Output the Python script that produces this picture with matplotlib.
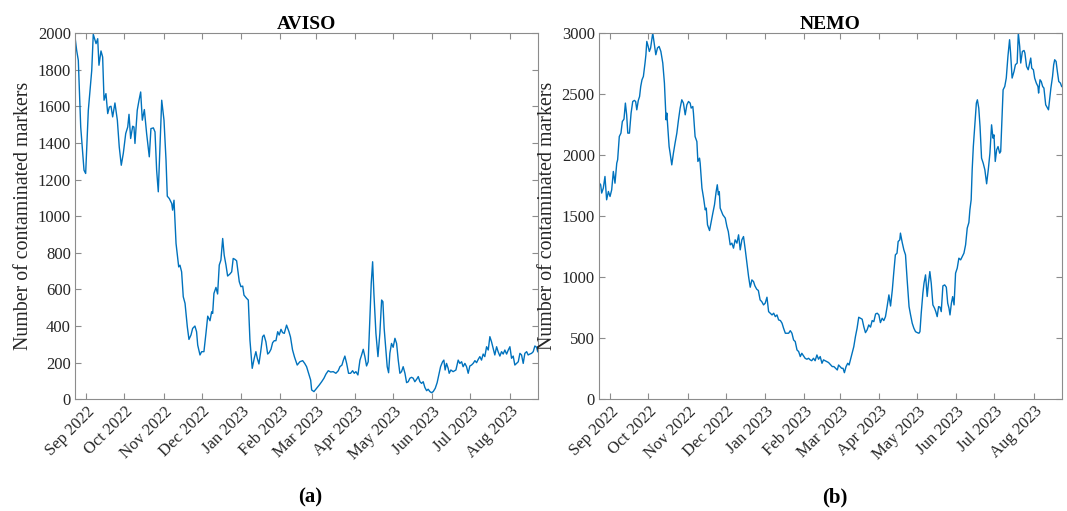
import numpy as np
import matplotlib
matplotlib.use("Agg")
import matplotlib.pyplot as plt
import matplotlib.dates as mdates

plt.rcParams['font.family'] = ['Liberation Serif', 'DejaVu Serif']

start_date = np.datetime64('2022-08-23')
end_date = np.datetime64('2023-08-23')

# AVISO: (days since 2022-08-23, number of contaminated markers)
aviso_days = [0, 1.3, 2.6, 4.5, 7.1, 8.4, 10.5, 13.2, 14.4, 16.6, 17.9, 18.9, 20.5, 21.8, 22.9,
              24.4, 25.8, 27.1, 28.4, 29.7, 31.5, 33.4, 34.9, 36.5, 38.1, 40.0, 41.6, 42.6, 43.9,
              45.5, 46.5, 47.3, 49.1, 50.5, 51.8, 53.1, 54.7, 56.5, 58.6, 59.9, 61.8, 63.1, 64.4,
              65.7, 67.0, 68.4, 70.2, 71.8, 72.8, 74.4, 76.3, 77.0, 78.1, 79.7, 81.8, 82.8, 84.1,
              85.4, 86.8, 88.6, 89.9, 91.5, 92.8, 94.6, 95.9, 96.8, 98.6, 99.9, 101.7, 103.3,
              104.7, 106.5, 107.8, 108.6, 109.6, 111.2, 112.5, 113.8, 115.1, 116.5, 117.7, 119.1,
              120.4, 122.2, 123.6, 124.8, 126.2, 127.5, 129.6, 130.9, 132.3, 133.3, 135.4, 136.7,
              138.0, 139.8, 141.4, 142.7, 143.8, 145.1, 146.5, 148.0, 149.1, 150.6, 152.0, 153.2,
              154.6, 155.9, 157.2, 158.5, 159.9, 161.1, 162.5, 163.8, 165.1, 166.9, 168.8, 170.0,
              171.6, 173.2, 175.3, 177.4, 179.6, 181.2, 182.7, 184.3, 185.9, 186.7, 188.5, 190.6,
              192.7, 194.6, 196.4, 198.0, 199.8, 201.7, 203.7, 205.8, 207.7, 209.0, 210.6, 211.6,
              212.9, 214.3, 215.8, 217.4, 219.0, 220.3, 221.6, 223.2, 224.8, 226.1, 227.4, 228.7,
              230.0, 231.3, 232.6, 233.7, 234.8, 235.8, 237.4, 239.0, 240.5, 241.9, 242.9, 243.9,
              245.3, 246.3, 247.4, 248.4, 249.7, 251.0, 252.4, 253.7, 255.0, 256.3, 257.6, 258.9,
              260.3, 261.6, 262.9, 264.2, 265.5, 266.8, 268.1, 269.5, 270.8, 272.1, 273.4, 274.7,
              276.0, 277.4, 278.6, 280.0, 281.3, 282.6, 284.2, 285.7, 287.3, 288.4, 290.0, 291.0,
              292.0, 293.1, 294.4, 295.2, 296.5, 298.3, 300.5, 302.3, 303.6, 305.0, 306.2, 307.6,
              308.9, 310.2, 311.5, 312.8, 314.1, 315.5, 316.8, 318.1, 319.4, 320.7, 322.0, 323.3,
              324.7, 326.0, 327.3, 328.6, 329.9, 331.2, 332.6, 333.8, 335.2, 336.5, 337.8, 339.1,
              340.5, 341.8, 343.1, 344.4, 345.7, 347.0, 348.4, 349.7, 351.0, 352.3, 353.6, 354.9,
              356.3, 357.5, 358.8, 360.2, 361.5, 362.8, 364.2, 365.0]
aviso_vals = [1978, 1905, 1851, 1487, 1251, 1233, 1578, 1796, 1993, 1942, 1969, 1824, 1902, 1869, 1633,
              1669, 1560, 1596, 1600, 1542, 1618, 1524, 1378, 1278, 1343, 1451, 1487, 1556, 1424,
              1491, 1487, 1397, 1578, 1633, 1678, 1524, 1582, 1451, 1324, 1478, 1482, 1460, 1251,
              1133, 1378, 1633, 1524, 1306, 1109, 1096, 1069, 1033, 1087, 851, 723, 732, 696,
              560, 524, 396, 327, 351, 387, 400, 369, 296, 242, 260, 260, 360,
              454, 429, 478, 469, 578, 611, 575, 733, 760, 878, 787, 733,
              673, 684, 696, 769, 764, 756, 642, 615, 618, 569, 551, 542,
              324, 169, 224, 260, 224, 193, 260, 342, 351, 314, 247, 255,
              273, 309, 320, 320, 369, 351, 382, 364, 360, 405, 369, 340,
              270, 230, 187, 205, 211, 196, 178, 142, 105, 51, 42, 60,
              78, 96, 115, 138, 156, 149, 151, 142, 156, 178, 187, 211,
              236, 196, 142, 142, 156, 142, 151, 133, 214, 242, 273, 233,
              182, 205, 433, 633, 751, 578, 360, 233, 360, 542, 533, 387,
              269, 178, 145, 251, 305, 284, 333, 305, 214, 142, 151, 178,
              142, 91, 96, 115, 120, 115, 96, 109, 124, 96, 87, 96,
              65, 47, 55, 42, 36, 42, 60, 91, 142, 178, 205, 214,
              160, 196, 169, 142, 160, 151, 160, 214, 196, 205, 178, 196,
              178, 142, 182, 187, 196, 211, 200, 218, 233, 214, 247, 233,
              287, 269, 342, 314, 278, 242, 287, 260, 236, 260, 247, 269,
              247, 269, 287, 224, 236, 187, 196, 205, 251, 242, 196, 251,
              260, 242, 247, 251, 260, 291, 284, 260]

# NEMO: (days since 2022-08-23, number of contaminated markers)
nemo_days = [0, 1.3, 2.1, 3.4, 4.7, 6.0, 7.4, 8.7, 10.0, 11.3,
             12.6, 14.0, 14.7, 16.0, 17.3, 18.4, 19.7, 20.8, 21.8, 22.7,
             24.0, 25.3, 26.6, 27.9, 28.9, 29.8, 31.0, 32.0, 32.9, 33.9,
             35.0, 36.3, 37.0, 37.7, 38.8, 39.7, 40.7, 41.8, 42.4, 43.5,
             44.8, 46.1, 47.4, 48.8, 50.3, 51.6, 52.9, 53.5, 54.4, 55.3,
             56.1, 57.4, 58.7, 60.0, 61.4, 62.7, 64.0, 65.3, 66.6, 68.0,
             69.3, 70.6, 71.9, 72.7, 74.0, 74.5, 75.8, 77.2, 78.0, 79.3,
             79.8, 81.2, 82.5, 83.8, 84.6, 85.6, 87.2, 88.5, 89.8, 91.1,
             92.4, 93.3, 94.2, 94.9, 95.6, 97.7, 99.6, 100.9, 102.0, 103.5,
             104.8, 106.1, 107.4, 108.8, 110.1, 111.4, 112.7, 114.0, 115.4, 116.7,
             118.0, 119.3, 120.6, 121.9, 123.0, 124.4, 125.7, 127.1, 128.4, 129.8,
             131.1, 132.5,
             133.8, 135.1, 136.5, 137.8, 139.1, 140.4, 141.7, 143.1, 144.4, 145.6, 147.0, 148.3,
             149.6, 150.9, 152.2, 153.5, 154.8, 156.2, 157.5, 158.8, 160.0, 161.4, 162.6, 164.0,
             165.3, 166.6, 167.8, 169.2, 170.5, 171.9, 173.2, 174.5, 175.9, 177.1, 178.4, 179.8,
             181.1, 182.8, 184.0, 185.3, 186.7, 188.0, 189.0, 190.1, 191.4, 192.5, 193.6, 194.9,
             196.2, 197.3, 198.3, 199.7, 201.0, 202.3, 203.6, 204.9, 206.2, 207.6, 208.9, 210.2,
             211.5, 212.8, 214.2, 215.5, 216.8, 218.2, 219.5, 220.8, 222.0, 223.4, 224.7, 226.0,
             227.3, 228.7, 230.0, 231.4, 232.5, 233.8, 235.1, 236.0, 237.3, 237.8, 239.2, 240.5,
             241.8, 243.1, 244.6, 245.8, 247.1, 248.4, 249.7, 251.1, 252.4, 253.2, 254.2, 255.5,
             256.4, 257.6, 258.9, 259.9, 261.0, 262.1, 263.4, 264.7, 265.7, 266.8, 267.9, 269.0,
             270.0, 271.3, 272.7, 274.0, 275.1, 276.1, 276.9, 278.0, 279.0, 280.1, 281.3, 282.6,
             283.9, 285.3, 286.6, 287.9, 289.2, 290.5, 291.8, 292.6, 293.6, 294.4, 295.3, 296.4,
             297.7, 298.5, 299.6, 300.6, 301.8, 303.1, 304.4, 305.8, 307.1, 308.4, 309.7, 310.8,
             311.6, 312.6, 313.7, 314.8, 316.1, 316.9, 317.7, 318.8, 320.1, 321.3, 322.6, 323.9,
             324.7, 325.9, 327.4, 328.5, 329.9, 330.8, 331.9, 332.7, 334.0, 335.3, 336.0, 337.3,
             338.6, 340.6, 341.4, 342.7, 343.7, 345.0, 346.3, 346.8, 347.9, 348.9, 350.0, 351.0,
             352.4, 353.8, 354.6, 356.5, 357.8, 358.7, 359.5, 360.6, 361.6, 362.7, 364.0, 365.0]
nemo_vals = [1775, 1757, 1689, 1730, 1825, 1634, 1702, 1661, 1716, 1866,
             1770, 1934, 1962, 2152, 2180, 2275, 2295, 2426, 2330, 2180,
             2180, 2344, 2439, 2448, 2439, 2371, 2448, 2480, 2562, 2617,
             2644, 2754, 2822, 2931, 2890, 2849, 2877, 2959, 3000, 2918,
             2822, 2877, 2890, 2849, 2754, 2590, 2289, 2344, 2207, 2070,
             2016, 1920, 2016, 2098, 2180, 2289, 2385, 2453, 2426, 2330,
             2412, 2439, 2426, 2385, 2398, 2344, 2152, 2111, 1948, 1975,
             1934, 1730, 1648, 1552, 1566, 1429, 1382, 1456, 1525, 1593,
             1700, 1757, 1675, 1700, 1566, 1511, 1484, 1415, 1374, 1265,
             1279, 1238, 1306, 1279, 1347, 1224, 1306, 1333, 1224, 1115,
             1005, 918, 978, 964, 929, 902, 891, 814, 800, 773,
             787, 836,
             718, 705, 691, 705, 677, 691, 650, 645, 623, 582, 541, 541,
             541, 562, 541, 486, 473, 404, 391, 350, 377, 355, 336, 328,
             336, 323, 316, 336, 316, 363, 328, 350, 295, 323, 316, 309,
             301, 281, 268, 268, 254, 240, 281, 268, 254, 254, 218, 268,
             295, 281, 322, 377, 431, 514, 582, 672, 664, 656, 595, 546,
             568, 609, 591, 645, 636, 699, 705, 691, 628, 664, 645, 677,
             759, 855, 764, 896, 1033, 1183, 1197, 1292, 1306, 1361, 1284, 1224,
             1183, 978, 759, 691, 623, 582, 554, 546, 541, 554, 705, 869,
             951, 1019, 842, 951, 1046, 951, 773, 746, 718, 677, 759, 755,
             718, 929, 937, 918, 787, 746, 691, 787, 841, 773, 1033, 1074,
             1156, 1142, 1170, 1197, 1265, 1402, 1448, 1552, 1634, 1880, 2070, 2234,
             2426, 2453, 2385, 2234, 1975, 1934, 1880, 1765, 1880, 2016, 2248, 2139,
             2166, 1948, 2043, 2070, 2016, 2030, 2234, 2535, 2562, 2631, 2808, 2945,
             2836, 2631, 2685, 2740, 2754, 3000, 2890, 2754, 2849, 2857, 2836, 2726,
             2699, 2795, 2712, 2699, 2631, 2590, 2562, 2508, 2617, 2603, 2562, 2549,
             2412, 2385, 2371, 2549, 2644, 2740, 2781, 2767, 2685, 2603, 2590, 2562]

titles = ['AVISO', 'NEMO']
captions = ['(a)', '(b)']
ylims = [2000, 3000]
ysteps = [200, 500]
ylabel = 'Number of contaminated markers'

line_color = '#0072BD'
axis_color = '#8c8c8c'
text_color = '#262626'

fig = plt.figure(figsize=(10.67, 5.11), dpi=100)
positions = [[0.0703, 0.2186, 0.4336, 0.7168], [0.5614, 0.2186, 0.4336, 0.7168]]

t0 = mdates.date2num(start_date)
t1 = mdates.date2num(end_date)

for i, (days, vals) in enumerate([(aviso_days, aviso_vals), (nemo_days, nemo_vals)]):
    ax = fig.add_axes(positions[i])
    x = t0 + np.asarray(days, dtype=float)
    ax.plot(x, vals, color=line_color, lw=1.0)
    ax.set_xlim(t0, t1)
    ax.set_ylim(0, ylims[i])
    ax.set_yticks(np.arange(0, ylims[i] + 1, ysteps[i]))
    ax.xaxis.set_major_locator(mdates.MonthLocator())
    ax.xaxis.set_major_formatter(mdates.DateFormatter('%b %Y'))
    for lab in ax.get_xticklabels():
        lab.set_rotation(45)
        lab.set_ha('right')
        lab.set_rotation_mode('anchor')
    ax.tick_params(direction='in', length=4, width=0.8, color=axis_color,
                   labelsize=12, labelcolor=text_color, top=True, right=True, pad=3)
    for sp in ax.spines.values():
        sp.set_color(axis_color)
        sp.set_linewidth(0.8)
    ax.set_title(titles[i], fontsize=14, fontweight='bold', color='black', pad=3)
    ax.set_ylabel(ylabel, fontsize=14.3, color=text_color, labelpad=3)
    cx = positions[i][0] + positions[i][2] / 2 + 0.004
    fig.text(cx, 0.026, captions[i], ha='center', va='center', fontsize=15,
             fontweight='bold', color='black')

fig.savefig('out.png', dpi=100)
